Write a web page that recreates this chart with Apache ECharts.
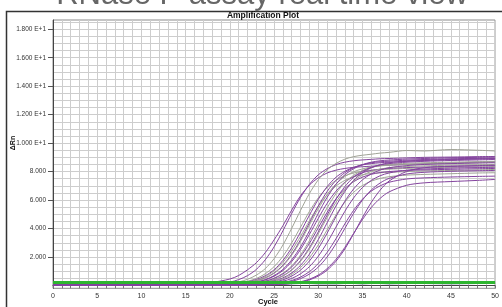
<!DOCTYPE html>
<html>
<head>
<meta charset="utf-8">
<script src="https://cdn.jsdelivr.net/npm/echarts@6/dist/echarts.min.js"></script>
<style>
html, body { margin: 0; padding: 0; background: #fff; }
#main { width: 502px; height: 307px; }
</style>
</head>
<body>
<div id="main"></div>
<script>
var cycles = [0, 12, 16, 18, 20, 21, 22, 23, 24, 25, 26, 27, 28, 29, 30, 31, 32, 33, 34, 35, 36, 37, 38, 40, 42, 45, 48, 50];

// delta Rn per well
var w01 = [0.05, 0.08, 0.15, 0.22, 0.45, 0.7, 1.1, 1.6, 2.3, 3.2, 4.2, 5.3, 6.3, 7.05, 7.56, 7.9, 8.1, 8.22, 8.3, 8.34, 8.38, 8.42, 8.45, 8.5, 8.55, 8.6, 8.66, 8.7];
var w02 = [0.03, 0.05, 0.1, 0.12, 0.24, 0.41, 0.69, 1.13, 1.8, 2.71, 3.84, 5.06, 6.19, 7.1, 7.77, 8.2, 8.49, 8.66, 8.76, 8.82, 8.86, 8.9, 8.92, 8.96, 9.0, 9.02, 9.05, 9.06];
var w03 = [0.04, 0.04, 0.06, 0.08, 0.15, 0.25, 0.43, 0.73, 1.18, 1.88, 2.84, 4.02, 5.28, 6.46, 7.42, 8.12, 8.57, 8.87, 9.05, 9.15, 9.22, 9.3, 9.35, 9.48, 9.45, 9.55, 9.5, 9.45];
var w04 = [0.06, 0.05, 0.07, 0.08, 0.13, 0.2, 0.3, 0.49, 0.82, 1.32, 2.05, 3.0, 4.1, 5.2, 6.15, 6.88, 7.38, 7.71, 7.9, 8.03, 8.1, 8.14, 8.17, 8.22, 8.26, 8.3, 8.33, 8.35];
var w05 = [0.02, 0.03, 0.05, 0.06, 0.1, 0.16, 0.25, 0.42, 0.68, 1.1, 1.76, 2.65, 3.76, 4.94, 6.05, 6.94, 7.6, 8.02, 8.3, 8.47, 8.56, 8.62, 8.66, 8.72, 8.78, 8.83, 8.88, 8.9];
var w06 = [0.05, 0.06, 0.06, 0.07, 0.09, 0.14, 0.22, 0.37, 0.62, 1.02, 1.62, 2.44, 3.46, 4.54, 5.56, 6.38, 6.98, 7.38, 7.63, 7.78, 7.87, 7.92, 7.95, 8.0, 8.05, 8.08, 8.12, 8.15];
var w07 = [0.03, 0.04, 0.04, 0.05, 0.07, 0.11, 0.18, 0.32, 0.53, 0.88, 1.42, 2.2, 3.22, 4.4, 5.58, 6.6, 7.38, 7.92, 8.27, 8.48, 8.62, 8.69, 8.73, 8.8, 8.85, 8.9, 8.93, 8.95];
var w08 = [0.06, 0.05, 0.06, 0.06, 0.07, 0.1, 0.18, 0.31, 0.51, 0.85, 1.37, 2.13, 3.11, 4.25, 5.39, 6.38, 7.13, 7.65, 7.99, 8.19, 8.32, 8.4, 8.44, 8.5, 8.55, 8.6, 8.62, 8.65];
var w09 = [0.02, 0.03, 0.04, 0.05, 0.06, 0.08, 0.14, 0.24, 0.41, 0.69, 1.13, 1.8, 2.71, 3.84, 5.06, 6.19, 7.1, 7.77, 8.2, 8.49, 8.66, 8.76, 8.81, 8.88, 8.92, 8.97, 9.0, 9.02];
var w10 = [0.05, 0.04, 0.05, 0.05, 0.06, 0.07, 0.13, 0.22, 0.38, 0.65, 1.05, 1.68, 2.53, 3.59, 4.71, 5.77, 6.62, 7.25, 7.65, 7.92, 8.08, 8.17, 8.22, 8.28, 8.32, 8.36, 8.4, 8.42];
var w11 = [0.04, 0.05, 0.05, 0.05, 0.06, 0.07, 0.1, 0.18, 0.31, 0.52, 0.86, 1.38, 2.15, 3.15, 4.3, 5.45, 6.45, 7.22, 7.74, 8.08, 8.29, 8.42, 8.5, 8.58, 8.62, 8.66, 8.7, 8.72];
var w12 = [0.03, 0.03, 0.04, 0.04, 0.05, 0.06, 0.1, 0.17, 0.29, 0.49, 0.81, 1.3, 2.03, 2.96, 4.05, 5.14, 6.08, 6.8, 7.29, 7.61, 7.81, 7.93, 8.0, 8.08, 8.12, 8.16, 8.2, 8.22];
var w13 = [0.02, 0.03, 0.03, 0.04, 0.05, 0.06, 0.08, 0.14, 0.23, 0.4, 0.68, 1.1, 1.76, 2.65, 3.76, 4.94, 6.05, 6.94, 7.6, 8.02, 8.3, 8.47, 8.56, 8.66, 8.72, 8.78, 8.82, 8.85];
var w14 = [0.05, 0.05, 0.05, 0.05, 0.05, 0.06, 0.08, 0.13, 0.23, 0.39, 0.66, 1.07, 1.7, 2.56, 3.63, 4.77, 5.84, 6.7, 7.33, 7.74, 8.01, 8.17, 8.27, 8.36, 8.4, 8.45, 8.48, 8.5];
var w15 = [0.03, 0.03, 0.04, 0.04, 0.05, 0.06, 0.07, 0.11, 0.18, 0.32, 0.53, 0.88, 1.42, 2.2, 3.22, 4.4, 5.58, 6.6, 7.38, 7.92, 8.27, 8.48, 8.62, 8.74, 8.8, 8.86, 8.9, 8.92];
var w16 = [0.06, 0.05, 0.05, 0.05, 0.05, 0.05, 0.06, 0.09, 0.16, 0.28, 0.47, 0.78, 1.26, 1.95, 2.85, 3.9, 4.95, 5.85, 6.54, 7.02, 7.33, 7.52, 7.64, 7.75, 7.8, 7.85, 7.9, 7.92];
var w17 = [0.03, 0.03, 0.03, 0.04, 0.04, 0.05, 0.05, 0.08, 0.14, 0.23, 0.39, 0.66, 1.08, 1.72, 2.59, 3.67, 4.83, 5.91, 6.78, 7.42, 7.84, 8.11, 8.27, 8.42, 8.5, 8.56, 8.6, 8.62];
var w18 = [0.04, 0.04, 0.04, 0.04, 0.04, 0.05, 0.05, 0.06, 0.1, 0.17, 0.3, 0.49, 0.82, 1.32, 2.05, 3.0, 4.1, 5.2, 6.15, 6.88, 7.38, 7.71, 7.9, 8.1, 8.18, 8.24, 8.28, 8.3];
var w19 = [0.03, 0.03, 0.03, 0.03, 0.04, 0.04, 0.04, 0.05, 0.07, 0.12, 0.21, 0.35, 0.59, 0.97, 1.54, 2.32, 3.28, 4.32, 5.28, 6.06, 6.63, 7.0, 7.25, 7.48, 7.56, 7.62, 7.66, 7.68];
var w20 = [0.02, 0.02, 0.03, 0.03, 0.03, 0.04, 0.04, 0.04, 0.06, 0.1, 0.17, 0.29, 0.48, 0.8, 1.29, 2.0, 2.93, 4.0, 5.07, 6.0, 6.71, 7.2, 7.52, 7.83, 7.95, 8.02, 8.06, 8.08];
var w21 = [0.04, 0.04, 0.04, 0.04, 0.04, 0.04, 0.04, 0.04, 0.05, 0.06, 0.09, 0.15, 0.26, 0.44, 0.73, 1.18, 1.83, 2.67, 3.65, 4.63, 5.48, 6.12, 6.57, 7.04, 7.21, 7.3, 7.38, 7.45];
var w22 = [0.03, 0.03, 0.03, 0.03, 0.03, 0.04, 0.04, 0.04, 0.04, 0.05, 0.08, 0.13, 0.23, 0.39, 0.66, 1.07, 1.7, 2.56, 3.63, 4.77, 5.84, 6.7, 7.33, 8.01, 8.27, 8.38, 8.42, 8.45];
var ntc = [0.14, 0.12, 0.16, 0.1, 0.15, 0.13, 0.16, 0.14, 0.15, 0.13, 0.16, 0.14, 0.15, 0.16, 0.14, 0.15, 0.13, 0.16, 0.15, 0.14, 0.16, 0.15, 0.14, 0.16, 0.15, 0.14, 0.16, 0.15];

var wells = [w01, w02, w03, w04, w05, w06, w07, w08, w09, w10, w11, w12, w13, w14, w15, w16, w17, w18, w19, w20, w21, w22];
// p = sample dye trace, g = reference trace
var wellGroup = ['p', 'p', 'g', 'g', 'p', 'g', 'p', 'g', 'p', 'p', 'g', 'p', 'p', 'g', 'p', 'g', 'p', 'p', 'p', 'p', 'p', 'p'];

var threshold = 0.2;
var yLabelValues = [2, 4, 6, 8, 10, 12, 14, 16, 18];
var xLabelStep = 5;

var FONT = '"Liberation Sans", Arial, sans-serif';
var groupColor = { p: '#84449e', g: '#a0a396' };

// horizontal grid every half unit
var yGridValues = [];
for (var k = 0; k <= 37; k++) yGridValues.push(k * 0.5);

var series = [];
series.push({
    name: 'NTC',
    type: 'line',
    data: cycles.map(function(c, j) { return [c, ntc[j]]; }),
    symbol: 'none',
    lineStyle: { width: 1.5, color: '#2c2f6e' },
    silent: true
});
wells.forEach(function(w, i) {
    series.push({
        name: 'W' + (i + 1),
        type: 'line',
        data: cycles.map(function(c, j) { return [c, w[j]]; }),
        symbol: 'none',
        smooth: 0.3,
        lineStyle: { width: 1, color: groupColor[wellGroup[i]] },
        silent: true
    });
});
series.push({
    name: 'Threshold',
    type: 'line',
    data: [[cycles[0], threshold], [cycles[cycles.length - 1], threshold]],
    symbol: 'none',
    lineStyle: { width: 3, color: '#2db52f' },
    z: 5,
    silent: true
});

var myChart = echarts.init(document.getElementById('main'));
var option = {
    animation: false,
    backgroundColor: '#fff',
    grid: {
        left: 53,
        right: 4.5,
        top: 20,
        bottom: 18.7,
        show: true,
        borderColor: '#8a8a8a',
        borderWidth: 1
    },
    xAxis: {
        type: 'value',
        min: 0,
        max: 50,
        interval: 1,
        axisLine: { lineStyle: { color: '#444', width: 1 } },
        axisTick: { length: 3, lineStyle: { color: '#777' } },
        axisLabel: {
            fontSize: 7,
            fontFamily: FONT,
            color: '#333',
            margin: 4,
            formatter: function(v) { return v % xLabelStep === 0 ? String(v) : ''; }
        },
        splitLine: { lineStyle: { color: '#cdcdcd', width: 1 } }
    },
    yAxis: [{
        type: 'value',
        min: -0.2,
        max: 18.65,
        axisLine: { show: true, lineStyle: { color: '#444', width: 1 } },
        axisTick: { show: true, length: 5, customValues: yLabelValues, lineStyle: { color: '#555' } },
        axisLabel: {
            customValues: yLabelValues,
            fontSize: 6.5,
            fontFamily: FONT,
            color: '#333',
            margin: 7,
            formatter: function(v) {
                return v >= 10 ? (v / 10).toFixed(3) + ' E+1' : v.toFixed(3);
            }
        },
        splitLine: { show: false }
    }, {
        type: 'value',
        min: -0.2,
        max: 18.65,
        position: 'left',
        axisLine: { show: false },
        axisTick: { show: false, customValues: yGridValues },
        axisLabel: { show: false },
        splitLine: { show: true, lineStyle: { color: '#cdcdcd', width: 1 } }
    }],
    graphic: [
        {
            type: 'rect',
            shape: { x: 6.5, y: 11.5, width: 520, height: 320 },
            style: { fill: 'none', stroke: '#333', lineWidth: 1.5 },
            silent: true
        },
        {
            type: 'text',
            x: 262,
            y: 11,
            style: {
                text: 'RNase P assay real time view',
                font: '31px ' + FONT,
                fill: '#666',
                textAlign: 'center',
                textVerticalAlign: 'bottom'
            }
        },
        {
            type: 'text',
            x: 263,
            y: 15.5,
            style: {
                text: 'Amplification Plot',
                font: 'bold 8.5px ' + FONT,
                fill: '#111',
                textAlign: 'center',
                textVerticalAlign: 'middle'
            }
        },
        {
            type: 'text',
            x: 13,
            y: 143,
            rotation: Math.PI / 2,
            style: {
                text: 'ΔRn',
                font: 'bold 7px ' + FONT,
                fill: '#111',
                textAlign: 'center',
                textVerticalAlign: 'middle'
            }
        },
        {
            type: 'text',
            x: 268,
            y: 302,
            style: {
                text: 'Cycle',
                font: 'bold 7.5px ' + FONT,
                fill: '#111',
                textAlign: 'center',
                textVerticalAlign: 'middle'
            }
        }
    ],
    series: series
};
myChart.setOption(option);
</script>
</body>
</html>
